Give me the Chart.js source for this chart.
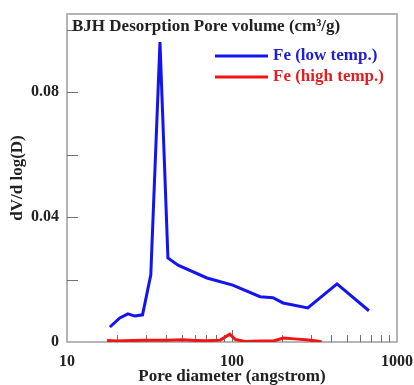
<!DOCTYPE html>
<html>
<head>
<meta charset="utf-8">
<style>
  html, body { margin: 0; padding: 0; background: #fff; }
</style>
<script src="https://cdn.jsdelivr.net/npm/chart.js@4.4.1/dist/chart.umd.min.js"></script>
</head>
<body>
<canvas id="chart" width="414" height="385"></canvas>
<script>
// pore diameter (angstrom) and dV/d log(D)
const lowD = [18.2, 20.9, 23.4, 25.8, 28.7, 32.2, 36.6, 40.9, 47.1, 70.5, 101, 148, 177, 204, 288, 433, 676];
const lowV = [0.0048, 0.0077, 0.0090, 0.0083, 0.0087, 0.0215, 0.096, 0.0269, 0.0246, 0.0205, 0.0182, 0.0145, 0.0142, 0.0125, 0.0109, 0.0186, 0.0100];
const highD = [17.5, 20, 25, 30, 40, 50, 60, 70, 85, 97, 105, 120, 150, 180, 205, 240, 280, 320, 350];
const highV = [0.0005, 0.0003, 0.0005, 0.0006, 0.0006, 0.0007, 0.0005, 0.0004, 0.0006, 0.0025, 0.0008, 0.0002, 0.0003, 0.0004, 0.0013, 0.0010, 0.0007, 0.0004, 0.0000];

const seriesNames = ["Fe (low temp.)", "Fe (high temp.)"];
const seriesColors = ["#1414f0", "#f01414"];
const labelColors = ["#2020d0", "#e02020"];

const xLabelTicks = [10, 100, 1000];
const xMinorTicks = [20, 30, 40, 50, 60, 70, 80, 90, 200, 300, 400, 500, 600, 700, 800, 900];
const yLabelTicks = [0, 0.04, 0.08];
const yMarkTicks = [0.02, 0.04, 0.06, 0.08, 0.1];

const titleText = "BJH Desorption Pore volume (cm\u00b3/g)";
const fontFamily = "'Liberation Serif', 'DejaVu Serif', serif";

const toPoints = (xs, ys) => xs.map((x, i) => ({ x: x, y: ys[i] }));

const framePlugin = {
  id: "frame",
  beforeDatasetsDraw(chart) {
    const { ctx, chartArea: a, scales: { x, y } } = chart;
    ctx.save();
    ctx.strokeStyle = "#9c9c9c";
    ctx.lineWidth = 1.5;
    ctx.strokeRect(a.left, a.top, a.right - a.left, a.bottom - a.top);

    ctx.strokeStyle = "#707070";
    ctx.lineWidth = 1;
    ctx.beginPath();
    yMarkTicks.forEach(v => {
      const py = Math.round(y.getPixelForValue(v)) + 0.5;
      ctx.moveTo(a.left, py);
      ctx.lineTo(a.left + 11, py);
    });
    xMinorTicks.forEach(v => {
      const px = Math.round(x.getPixelForValue(v)) + 0.5;
      ctx.moveTo(px, a.bottom);
      ctx.lineTo(px, a.bottom - 7);
    });
    [100].forEach(v => {
      const px = Math.round(x.getPixelForValue(v)) + 0.5;
      ctx.moveTo(px, a.bottom);
      ctx.lineTo(px, a.bottom - 12);
    });
    ctx.stroke();
    ctx.restore();
  },
  afterDraw(chart) {
    const { ctx } = chart;
    ctx.save();
    ctx.font = "bold 17px " + fontFamily;
    ctx.textBaseline = "middle";
    ctx.fillStyle = "#222";
    ctx.fillText(titleText, 72, 27);

    chart.data.datasets.forEach((ds, i) => {
      const ly = 56 + i * 21;
      ctx.strokeStyle = ds.borderColor;
      ctx.lineWidth = 3;
      ctx.beginPath();
      ctx.moveTo(215, ly);
      ctx.lineTo(268, ly);
      ctx.stroke();
      ctx.fillStyle = labelColors[i];
      ctx.fillText(ds.label, 273, ly);
    });
    ctx.restore();
  }
};

new Chart("chart", {
  type: "scatter",
  data: {
    datasets: [
      {
        label: seriesNames[0],
        data: toPoints(lowD, lowV),
        showLine: true,
        borderColor: seriesColors[0],
        borderWidth: 3,
        pointRadius: 0,
        tension: 0,
      },
      {
        label: seriesNames[1],
        data: toPoints(highD, highV),
        showLine: true,
        borderColor: seriesColors[1],
        borderWidth: 3,
        pointRadius: 0,
        tension: 0,
      },
    ],
  },
  options: {
    responsive: false,
    devicePixelRatio: 1,
    animation: false,
    layout: { padding: { top: 14, right: 17, left: 0, bottom: 0 } },
    plugins: {
      legend: { display: false },
      tooltip: { enabled: false },
    },
    scales: {
      x: {
        type: "logarithmic",
        min: 10,
        max: 1000,
        grid: { display: false, drawTicks: false },
        border: { display: false },
        afterBuildTicks: s => { s.ticks = xLabelTicks.map(v => ({ value: v })); },
        afterFit: s => { s.height = 43; s.paddingLeft = 0; s.paddingRight = 0; },
        ticks: {
          autoSkip: false,
          maxRotation: 0,
          padding: 10,
          color: "#222",
          font: { family: fontFamily, size: 16, weight: "bold" },
          callback: v => String(v),
        },
        title: {
          display: true,
          text: "Pore diameter (angstrom)",
          color: "#222",
          padding: { top: 0, bottom: 0 },
          font: { family: fontFamily, size: 17, weight: "bold", lineHeight: 1 },
        },
      },
      y: {
        min: 0,
        max: 0.105,
        grid: { display: false, drawTicks: false },
        border: { display: false },
        afterBuildTicks: s => { s.ticks = yLabelTicks.map(v => ({ value: v })); },
        afterFit: s => { s.width = 67; s.paddingTop = 0; s.paddingBottom = 0; },
        ticks: {
          padding: 8,
          color: "#222",
          font: { family: fontFamily, size: 16, weight: "bold" },
          callback: v => (v === 0 ? "0" : v.toFixed(2)),
        },
        title: {
          display: true,
          text: "dV/d log(D)",
          color: "#222",
          padding: { top: 9, bottom: 0 },
          font: { family: fontFamily, size: 17, weight: "bold", lineHeight: 1 },
        },
      },
    },
  },
  plugins: [framePlugin],
});
</script>
</body>
</html>
